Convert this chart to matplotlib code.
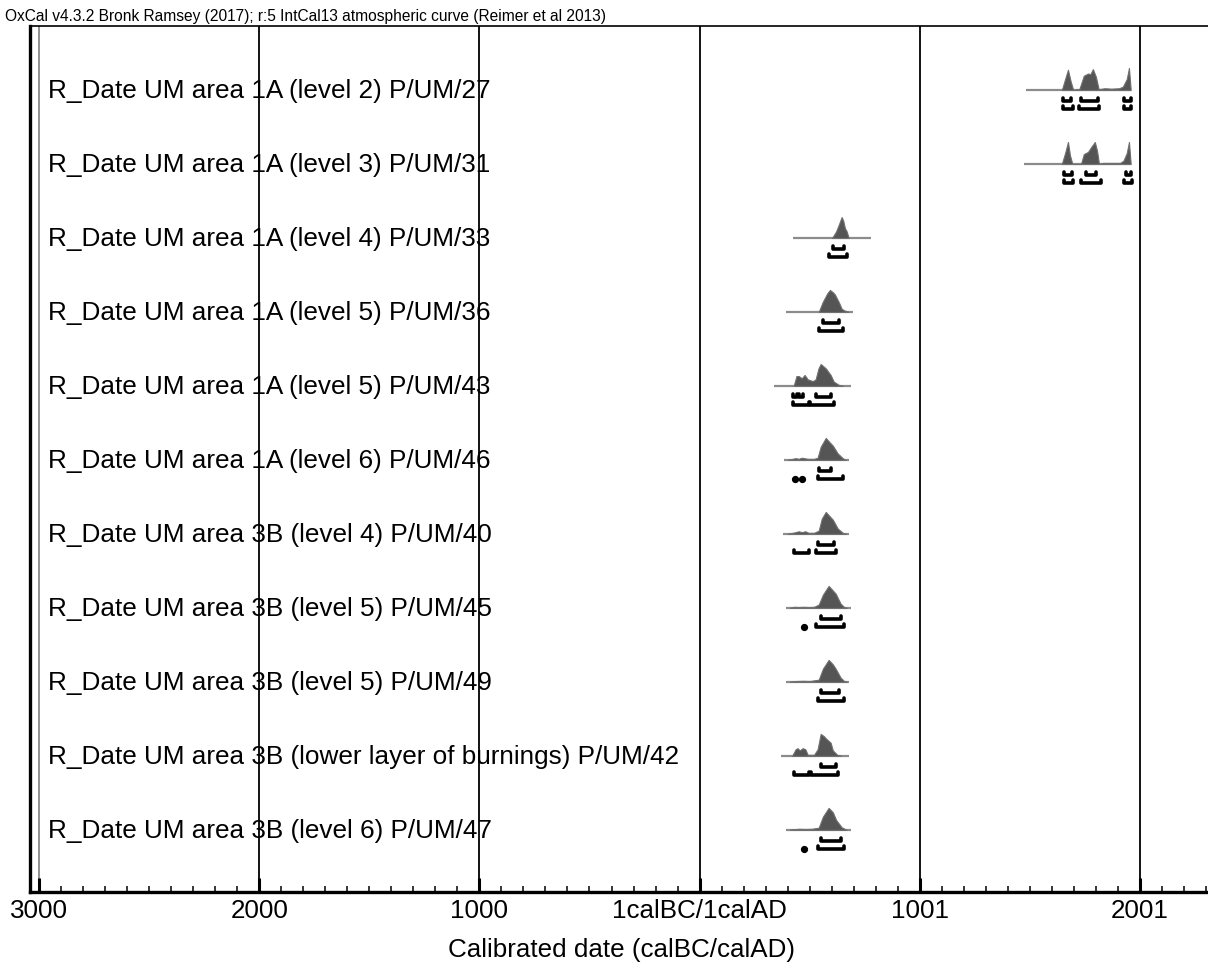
import numpy as np
import matplotlib.pyplot as plt
from matplotlib.transforms import blended_transform_factory

plt.rcParams['font.family'] = ['Liberation Sans', 'DejaVu Sans']

# sample names, top to bottom
labels = [
    'R_Date UM area 1A (level 2) P/UM/27',
    'R_Date UM area 1A (level 3) P/UM/31',
    'R_Date UM area 1A (level 4) P/UM/33',
    'R_Date UM area 1A (level 5) P/UM/36',
    'R_Date UM area 1A (level 5) P/UM/43',
    'R_Date UM area 1A (level 6) P/UM/46',
    'R_Date UM area 3B (level 4) P/UM/40',
    'R_Date UM area 3B (level 5) P/UM/45',
    'R_Date UM area 3B (level 5) P/UM/49',
    'R_Date UM area 3B (lower layer of burnings) P/UM/42',
    'R_Date UM area 3B (level 6) P/UM/47',
]

# extent of the grey base line of each distribution (cal years, 0 = 1calBC/1calAD)
base_lo = [1482, 1473, 423, 391, 336, 382, 377, 391, 391, 368, 391]
base_hi = [1959, 1959, 777, 695, 686, 677, 677, 686, 677, 677, 686]

# posterior shapes (year, relative probability)
dist_x = [
    [1645, 1660, 1673, 1685, 1697, 1725, 1745, 1764, 1775, 1786, 1800, 1812, 1820, 1840, 1870, 1905, 1922, 1940, 1950, 1958],
    [1645, 1660, 1673, 1682, 1693, 1732, 1745, 1764, 1777, 1795, 1805, 1814, 1830, 1870, 1910, 1925, 1940, 1950, 1958],
    [600, 605, 620, 632, 645, 652, 660, 668, 677],
    [541, 559, 580, 592, 605, 614, 632, 645, 655, 677],
    [427, 440, 450, 464, 477, 491, 505, 514, 527, 540, 550, 573, 595, 609, 632, 650],
    [400, 436, 450, 464, 491, 520, 536, 550, 573, 591, 605, 627, 650, 664],
    [400, 436, 450, 464, 480, 495, 520, 541, 555, 573, 591, 605, 627, 650, 664],
    [410, 430, 450, 470, 495, 520, 541, 560, 586, 600, 618, 640, 655, 668],
    [410, 440, 470, 500, 541, 560, 586, 605, 618, 640, 655, 668],
    [420, 436, 445, 455, 468, 480, 491, 520, 536, 550, 564, 573, 595, 605, 625, 641],
    [410, 450, 480, 510, 541, 560, 586, 605, 620, 645, 668],
]
dist_h = [
    [0, 0.5, 0.92, 0.4, 0, 0.05, 0.65, 0.75, 0.72, 0.95, 0.6, 0.05, 0.05, 0.08, 0.06, 0.08, 0.15, 0.5, 1.0, 0],
    [0, 0.5, 1.0, 0.4, 0, 0, 0.45, 0.55, 0.75, 1.0, 0.6, 0, 0.05, 0.05, 0.05, 0.15, 0.5, 1.0, 0],
    [0, 0.05, 0.3, 0.6, 0.95, 0.8, 0.45, 0.3, 0],
    [0, 0.45, 0.85, 1.0, 0.9, 0.8, 0.45, 0.15, 0.08, 0],
    [0, 0.45, 0.45, 0.35, 0.5, 0.3, 0.25, 0.22, 0.3, 0.8, 1.0, 0.8, 0.5, 0.2, 0.05, 0],
    [0, 0.08, 0.05, 0.1, 0.05, 0.05, 0.1, 0.6, 1.0, 0.8, 0.65, 0.3, 0.08, 0],
    [0, 0.08, 0.12, 0.08, 0.12, 0.05, 0.05, 0.15, 0.7, 1.0, 0.8, 0.65, 0.25, 0.05, 0],
    [0, 0.05, 0.04, 0.05, 0.04, 0.05, 0.15, 0.6, 1.0, 0.85, 0.65, 0.2, 0.05, 0],
    [0, 0.04, 0.05, 0.04, 0.1, 0.6, 1.0, 0.8, 0.6, 0.2, 0.05, 0],
    [0, 0.3, 0.35, 0.25, 0.35, 0.3, 0.05, 0.05, 0.3, 1.0, 0.9, 0.8, 0.6, 0.25, 0.05, 0],
    [0, 0.05, 0.04, 0.05, 0.1, 0.6, 1.0, 0.8, 0.45, 0.12, 0],
]

# 68.2% and 95.4% ranges
range68 = [
    [(1650, 1686), (1732, 1809), (1927, 1959)],
    [(1655, 1690), (1755, 1800), (1936, 1959)],
    [(605, 655)],
    [(559, 632)],
    [(423, 441), (452, 470), (527, 595)],
    [(541, 595)],
    [(536, 609)],
    [(550, 641)],
    [(550, 632)],
    [(550, 618)],
    [(550, 641)],
]
range95 = [
    [(1650, 1695), (1723, 1814), (1927, 1959)],
    [(1655, 1695), (1732, 1823), (1927, 1964)],
    [(590, 668)],
    [(541, 650)],
    [(423, 495), (500, 609)],
    [(432, 437), (462, 467), (536, 650)],
    [(427, 495), (527, 618)],
    [(471, 475), (527, 655)],
    [(536, 655)],
    [(427, 495), (505, 627)],
    [(473, 477), (536, 655)],
]

major_ticks = [-3000, -2000, -1000, 0, 1000, 2000]
tick_labels = ['3000', '2000', '1000', '1calBC/1calAD', '1001', '2001']

W, H = 1208, 978
fig = plt.figure(figsize=(W / 100, H / 100), dpi=100)
ax = fig.add_axes([30 / W, 85 / H, 1178 / W, 866 / H])

ax.set_xlim(-3041, 2309)
ax.set_ylim(11.84, 0.135)

# vertical grid lines at the major ticks
for t in major_ticks:
    c = '#888888' if t == -3000 else 'black'
    ax.axvline(t, color=c, lw=1.3, zorder=1)

peak = 22 / 74
for i in range(len(labels)):
    y = i + 1
    ax.plot([base_lo[i], base_hi[i]], [y, y], color='#8c8c8c', lw=1.6, zorder=2,
            solid_capstyle='butt')
    x = np.array(dist_x[i])
    h = np.array(dist_h[i]) * peak
    ax.fill_between(x, y - h, y, facecolor='#555555', edgecolor='#707070',
                    lw=0.8, zorder=3)
    for ranges, off in ((range68[i], 0.15), (range95[i], 0.26)):
        yy = y + off
        for a, b in ranges:
            if b - a < 12:
                ax.plot([(a + b) / 2], [yy], 'o', color='black', ms=4.2, zorder=4)
            else:
                ax.plot([a, a, b, b], [yy - 0.045, yy, yy, yy - 0.045], color='black',
                        lw=2.6, zorder=4, solid_joinstyle='round',
                        solid_capstyle='round')

trans = blended_transform_factory(ax.transAxes, ax.transData)
for i, lab in enumerate(labels):
    ax.text(18 / 1178, i + 1, lab, transform=trans, fontsize=18.8, va='center',
            ha='left', zorder=5)

ax.set_yticks([])
ax.set_xticks(major_ticks)
ax.set_xticklabels(tick_labels, fontsize=18.7)
ax.set_xticks(np.arange(-3000, 2301, 100), minor=True)
ax.tick_params(axis='x', which='major', direction='in', length=10, width=2.2, pad=4)
ax.tick_params(axis='x', which='minor', direction='in', length=4.5, width=1.1)

ax.spines['left'].set_linewidth(2.4)
ax.spines['bottom'].set_linewidth(2.4)
ax.spines['top'].set_linewidth(1.2)
ax.spines['right'].set_visible(False)

fig.text(622 / W, 1 - 950 / H, 'Calibrated date (calBC/calAD)', fontsize=18.7,
         ha='center', va='center')
fig.text(5 / W, 1 - 17 / H,
         'OxCal v4.3.2 Bronk Ramsey (2017); r:5 IntCal13 atmospheric curve (Reimer et al 2013)',
         fontsize=11.2, ha='left', va='center')

fig.savefig('out.png', dpi=100)
